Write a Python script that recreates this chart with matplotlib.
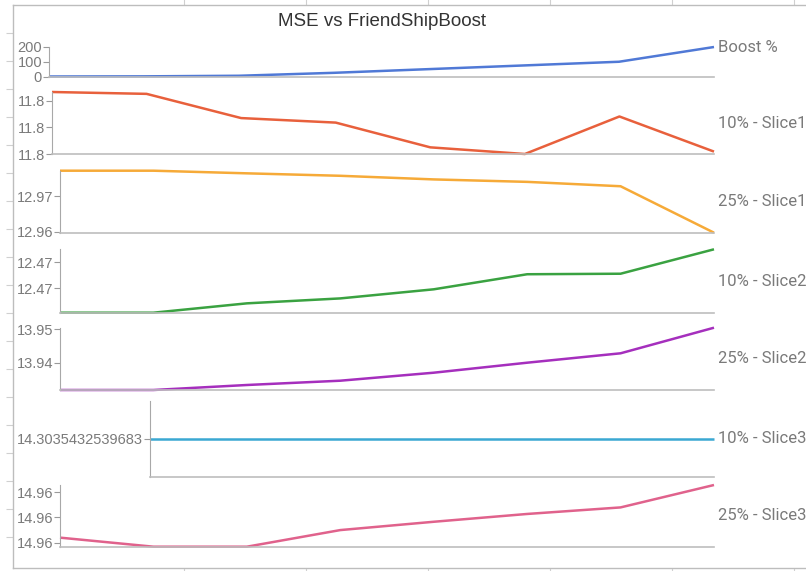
import matplotlib
matplotlib.use("Agg")
import matplotlib.pyplot as plt
from matplotlib.ticker import FormatStrFormatter

# ------------------------------------------
# Data
# ------------------------------------------

steps = list(range(8))

boost = [0, 1, 5, 25, 50, 75, 100, 200]
slice1_10 = [11.80233, 11.80226, 11.80135, 11.80118, 11.80025, 11.80000, 11.80141, 11.80009]
slice1_25 = [12.97714, 12.97714, 12.97640, 12.97571, 12.97469, 12.97400, 12.97277, 12.95971]
slice2_10 = [12.47005, 12.47005, 12.47041, 12.47060, 12.47095, 12.47153, 12.47155, 12.47249]
slice2_25 = [13.93181, 13.93181, 13.93331, 13.93460, 13.93700, 13.94000, 13.94282, 13.95050]
slice3_10 = [14.3035432539683] * 8
slice3_25 = [14.96020, 14.95984, 14.95984, 14.96050, 14.96083, 14.96114, 14.96140, 14.96229]

names = ["Boost %", "10% - Slice1", "25% - Slice1", "10% - Slice2",
         "25% - Slice2", "10% - Slice3", "25% - Slice3"]
series = [boost, slice1_10, slice1_25, slice2_10, slice2_25, slice3_10, slice3_25]

yticks = [
    [0, 100, 200],
    [11.800, 11.801, 11.802],
    [12.96, 12.97],
    [12.471, 12.472],
    [13.94, 13.95],
    [14.3035432539683],
    [14.960, 14.961, 14.962],
]
tick_fmt = ["%d", "%.1f", "%.2f", "%.2f", "%.2f", None, "%.2f"]

colors = ["#5079d6", "#e8603c", "#f6aa38", "#3aa241",
          "#a52fbd", "#3ba8d2", "#e0628c"]

# panel boxes in pixels: left, top, bottom (all end at x=714)
boxes = [
    (49, 47, 76.5),
    (52, 92, 154),
    (60, 170.7, 232.7),
    (60, 249.3, 312.7),
    (60, 327.7, 390),
    (150, 400.5, 477),
    (60, 485, 546.7),
]

W, H = 806, 571
RIGHT = 714
GRAY = "#bdbdbd"
TXT = "#7a7a7a"

fig = plt.figure(figsize=(W / 100, H / 100), dpi=100)
fig.patch.set_facecolor("white")

# background frame of the screenshot
bg = fig.add_axes([13 / W, 3 / H, (W - 13) / W, 563 / H])
bg.set_xlim(13, W)
bg.set_ylim(568, 5)
bg.spines["right"].set_visible(False)
for s in ["left", "top", "bottom"]:
    bg.spines[s].set_color(GRAY)
    bg.spines[s].set_linewidth(1)
bg.set_yticks(range(33, 560, 28))
bg.set_xticks(range(184, 800, 122))
bg.tick_params(axis="y", length=5, color="#d0d0d0", labelleft=False)
bg.tick_params(axis="x", length=4, color="#d0d0d0", top=True, bottom=True,
               labelbottom=False)
bg.set_zorder(0)

fig.text(382 / W, 1 - 22 / H, "MSE vs FriendShipBoost", ha="center", va="center",
         fontsize=13.5, color="#333333", family="Liberation Sans")

for i, vals in enumerate(series):
    left, top, bottom = boxes[i]
    ax = fig.add_axes([left / W, 1 - bottom / H, (RIGHT - left) / W, (bottom - top) / H])
    ax.patch.set_alpha(0)
    ax.plot(steps, vals, color=colors[i], linewidth=1.8, solid_capstyle="butt",
            clip_on=False)
    ax.set_xlim(0, 7)
    lo, hi = min(vals), max(vals)
    if lo == hi:
        lo, hi = lo - 1, hi + 1
    ax.set_ylim(lo, hi)

    ax.set_yticks(yticks[i])
    if tick_fmt[i]:
        ax.yaxis.set_major_formatter(FormatStrFormatter(tick_fmt[i]))
    else:
        ax.set_yticklabels([str(v) for v in yticks[i]])
    ax.set_xticks([])
    ax.tick_params(axis="y", length=4, width=0.8, color="#9a9a9a",
                   labelcolor=TXT, labelsize=10.5, pad=1)
    for lab in ax.get_yticklabels():
        lab.set_family("Liberation Sans")

    for s in ["top", "right"]:
        ax.spines[s].set_visible(False)
    ax.spines["left"].set_color("#a8a8a8")
    ax.spines["left"].set_linewidth(0.8)
    ax.spines["bottom"].set_color(GRAY)
    ax.spines["bottom"].set_linewidth(1.2)

    # series label on the right
    if i == 0:
        ax.annotate(names[i], xy=(7, vals[-1]), xytext=(3, 0), textcoords="offset points",
                    va="center", ha="left", fontsize=12, color=TXT,
                    family="Roboto", annotation_clip=False)
    else:
        ax.annotate(names[i], xy=(1, 0.5), xycoords="axes fraction", xytext=(3, 0),
                    textcoords="offset points", va="center", ha="left",
                    fontsize=12, color=TXT, family="Roboto", annotation_clip=False)

plt.savefig("out.png", dpi=100)
